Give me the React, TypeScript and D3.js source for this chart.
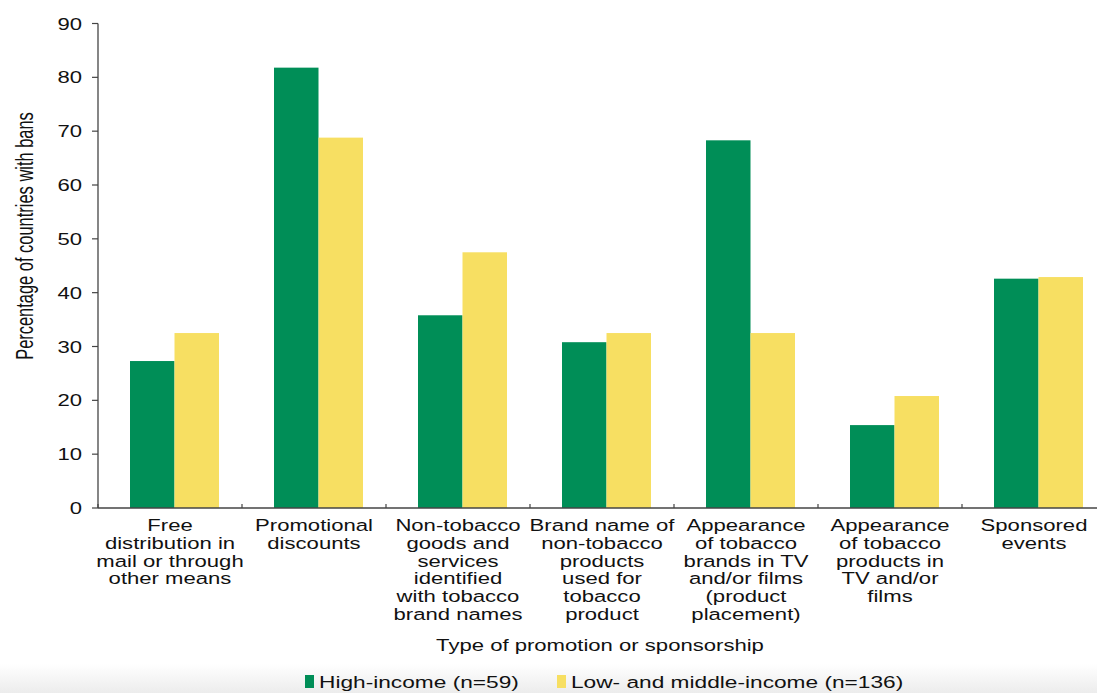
import React from "react";
import * as d3 from "d3";

const categories = [
  ["Free", "distribution in", "mail or through", "other means"],
  ["Promotional", "discounts"],
  ["Non-tobacco", "goods and", "services", "identified", "with tobacco", "brand names"],
  ["Brand name of", "non-tobacco", "products", "used for", "tobacco", "product"],
  ["Appearance", "of tobacco", "brands in TV", "and/or films", "(product", "placement)"],
  ["Appearance", "of tobacco", "products in", "TV and/or", "films"],
  ["Sponsored", "events"],
];
const highIncome = [27.3, 81.8, 35.8, 30.8, 68.3, 15.4, 42.6];
const lowMiddleIncome = [32.5, 68.8, 47.5, 32.5, 32.5, 20.8, 42.9];
const seriesNames = ["High-income (n=59)", "Low- and middle-income (n=136)"];
const seriesColors = ["#008e57", "#f7df62"];
const yTicks = [0, 10, 20, 30, 40, 50, 60, 70, 80, 90];

const W = 1097;
const H = 693;
const FONT = "'Liberation Sans', Arial, Helvetica, sans-serif";
const SX = 1.3;

export default function App() {
  const keys = categories.map((c) => c.join(" "));
  const y = d3.scaleLinear().domain([0, 90]).range([508, 23.5]);
  const x0 = d3.scaleBand<string>().domain(keys).range([98, 98 + 7 * 144]).paddingInner(0).paddingOuter(0);
  const x1 = d3.scaleBand<string>().domain(seriesNames).range([32, 121]);
  const series = [highIncome, lowMiddleIncome];
  const legendX = [305, 557];

  return (
    <svg width={W} height={H} style={{ position: "absolute", left: 0, top: 0, display: "block" }}>
      <defs>
        <linearGradient id="bottomFade" x1="0" y1="0" x2="0" y2="1">
          <stop offset="0" stopColor="#ffffff" />
          <stop offset="1" stopColor="#ececec" />
        </linearGradient>
      </defs>
      <rect x={0} y={0} width={W} height={H} fill="#ffffff" />
      <rect x={0} y={664} width={W} height={H - 664} fill="url(#bottomFade)" />

      {/* bars */}
      {keys.map((k, i) => (
        <g key={k} transform={`translate(${x0(k)},0)`}>
          {series.map((s, j) => (
            <rect
              key={j}
              x={x1(seriesNames[j])}
              y={y(s[i])}
              width={x1.bandwidth()}
              height={y(0) - y(s[i])}
              fill={seriesColors[j]}
            />
          ))}
        </g>
      ))}

      {/* y axis */}
      <line x1={98} x2={98} y1={y(90)} y2={y(0)} stroke="#444" strokeWidth={1.3} />
      {yTicks.map((t) => (
        <g key={t}>
          <line x1={92} x2={98} y1={y(t)} y2={y(t)} stroke="#444" strokeWidth={1.2} />
          <text
            transform={`translate(82,${y(t) + 6}) scale(${SX},1)`}
            textAnchor="end"
            fontFamily={FONT}
            fontSize={17}
            fill="#111"
          >
            {t}
          </text>
        </g>
      ))}
      <text
        transform={`translate(33,236) rotate(-90) scale(0.866,1.3)`}
        textAnchor="middle"
        fontFamily={FONT}
        fontSize={19}
        fill="#111"
      >
        Percentage of countries with bans
      </text>

      {/* x axis */}
      <line x1={98} x2={W} y1={y(0)} y2={y(0)} stroke="#444" strokeWidth={1.3} />
      {keys.map((k) => (
        <line key={k} x1={x0(k)} x2={x0(k)} y1={y(0)} y2={y(0) - 4} stroke="#444" strokeWidth={1.2} />
      ))}
      {categories.map((lines, i) => (
        <g key={i} transform={`translate(${(x0(keys[i]) as number) + 72},0)`}>
          {lines.map((ln, li) => (
            <text
              key={li}
              transform={`translate(0,${531 + li * 17.8}) scale(${SX},1)`}
              textAnchor="middle"
              fontFamily={FONT}
              fontSize={17}
              fill="#111"
            >
              {ln}
            </text>
          ))}
        </g>
      ))}
      <text
        transform={`translate(600,651) scale(${SX},1)`}
        textAnchor="middle"
        fontFamily={FONT}
        fontSize={17}
        fill="#111"
      >
        Type of promotion or sponsorship
      </text>

      {/* legend */}
      {seriesNames.map((n, j) => (
        <g key={n}>
          <rect x={legendX[j]} y={675} width={9} height={13} fill={seriesColors[j]} />
          <text
            transform={`translate(${legendX[j] + 14},688) scale(${SX * 1.015},1)`}
            fontFamily={FONT}
            fontSize={17.2}
            fill="#111"
          >
            {n}
          </text>
        </g>
      ))}
    </svg>
  );
}
